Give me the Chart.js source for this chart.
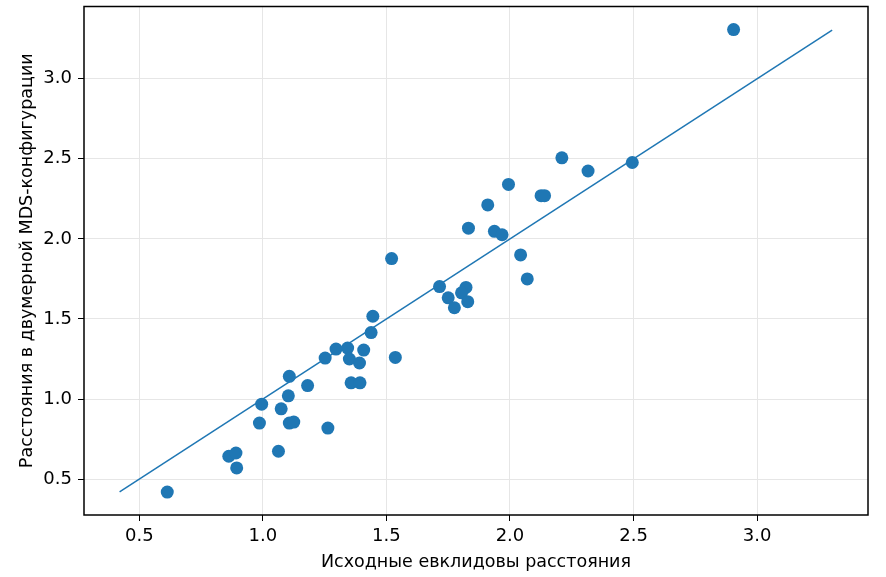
<!DOCTYPE html>
<html>
<head>
<meta charset="utf-8">
<script src="https://cdn.jsdelivr.net/npm/chart.js@4"></script>
<style>
html,body{margin:0;padding:0;background:#fff;}
#wrap{width:886px;height:577px;}
</style>
</head>
<body>
<div id="wrap"><canvas id="c" width="886" height="577"></canvas></div>
<script>
const xValues = [2.905, 2.21, 2.316, 2.495, 1.994, 1.910, 2.126, 2.140, 1.832, 1.937, 1.968, 2.043, 2.070,
  1.521, 1.715, 1.750, 1.775, 1.822, 1.804, 1.829, 1.445, 1.438, 1.252, 1.296, 1.343, 1.408, 1.350, 1.391,
  1.536, 1.107, 1.181, 1.357, 1.393, 0.995, 1.103, 1.074, 0.986, 1.107, 1.125, 1.263, 1.063, 0.862, 0.891,
  0.894, 0.613];
const yValues = [3.307, 2.506, 2.424, 2.477, 2.340, 2.212, 2.270, 2.270, 2.067, 2.047, 2.026, 1.900, 1.750,
  1.877, 1.702, 1.632, 1.570, 1.697, 1.663, 1.608, 1.517, 1.415, 1.256, 1.312, 1.318, 1.306, 1.250, 1.225,
  1.260, 1.142, 1.084, 1.101, 1.101, 0.968, 1.020, 0.939, 0.850, 0.850, 0.856, 0.819, 0.674, 0.643, 0.663,
  0.570, 0.419];
const lineX = [0.42, 3.304];
const lineY = [0.42, 3.304];
const xTicks = [0.5, 1.0, 1.5, 2.0, 2.5, 3.0];
const yTicks = [0.5, 1.0, 1.5, 2.0, 2.5, 3.0];
const xTitle = 'Исходные евклидовы расстояния';
const yTitle = 'Расстояния в двумерной MDS-конфигурации';

const blue = '#1f77b4';
const pts = xValues.map((x, i) => ({x: x, y: yValues[i]}));
const linePts = lineX.map((x, i) => ({x: x, y: lineY[i]}));

const frame = {
  id: 'frame',
  afterDraw(chart) {
    const {ctx, chartArea: a} = chart;
    ctx.save();
    ctx.strokeStyle = '#000';
    ctx.lineWidth = 1.5;
    ctx.strokeRect(a.left, a.top, a.right - a.left, a.bottom - a.top);
    ctx.restore();
  }
};

const font = {family: 'DejaVu Sans', size: 18};
const titleFont = {family: 'DejaVu Sans', size: 17.5};
new Chart(document.getElementById('c'), {
  type: 'scatter',
  data: {
    datasets: [
      {data: pts, backgroundColor: blue, borderWidth: 0, pointRadius: 6.5, pointHoverRadius: 6.5, order: 1},
      {data: linePts, showLine: true, borderColor: blue, borderWidth: 1.5, pointRadius: 0, fill: false, order: 2}
    ]
  },
  options: {
    responsive: false,
    animation: false,
    layout: {padding: {left: 0, top: 4, right: 18, bottom: 0}},
    plugins: {legend: {display: false}, tooltip: {enabled: false}},
    scales: {
      x: {
        type: 'linear', min: 0.276, max: 3.449,
        afterFit(s) { s.height = 62; s.paddingLeft = 0; s.paddingRight = 0; },
        afterBuildTicks(s) { s.ticks = xTicks.map(v => ({value: v})); },
        grid: {color: '#e6e6e6', lineWidth: 1, tickColor: '#000', tickLength: 6, drawTicks: true},
        border: {display: false},
        ticks: {font: font, color: '#000', padding: 5, callback: v => Number(v).toFixed(1), maxRotation: 0},
        title: {display: true, text: xTitle, font: titleFont, color: '#000', padding: {top: 0, bottom: 4}}
      },
      y: {
        type: 'linear', min: 0.276, max: 3.451,
        afterFit(s) { s.width = 84; s.paddingTop = 0; s.paddingBottom = 0; },
        afterBuildTicks(s) { s.ticks = yTicks.map(v => ({value: v})); },
        grid: {color: '#e6e6e6', lineWidth: 1, tickColor: '#000', tickLength: 6, drawTicks: true},
        border: {display: false},
        ticks: {font: font, color: '#000', padding: 6, callback: v => Number(v).toFixed(1)},
        title: {display: true, text: yTitle, font: titleFont, color: '#000', padding: {top: 17, bottom: 0}}
      }
    }
  },
  plugins: [frame]
});
</script>
</body>
</html>
